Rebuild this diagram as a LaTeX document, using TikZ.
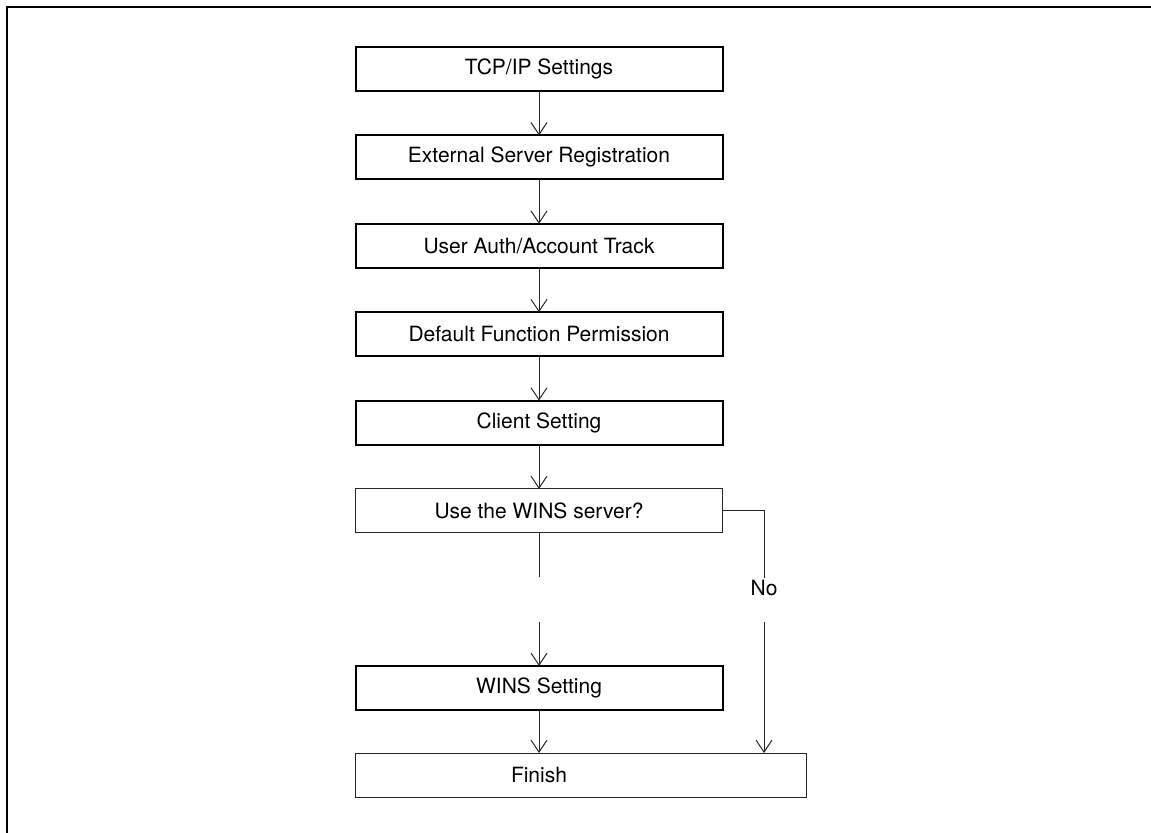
\documentclass[tikz,border=0pt]{standalone}
\usepackage{fontspec}
\setmainfont{TeX Gyre Heros}
\usetikzlibrary{arrows.meta,positioning}
\tikzset{stepbox/.style={draw,line width=1pt,minimum width=183.5pt,minimum height=22pt,inner sep=0pt,outer sep=0pt,font=\fontsize{10.5pt}{12pt}\selectfont},
plainbox/.style={stepbox,line width=0.5pt,draw=black!85},
lbl/.style={font=\fontsize{10.5pt}{12pt}\selectfont,inner sep=1pt},
link/.style={line width=0.5pt,draw=black!85},
arr/.style={link,-{Straight Barb[length=6pt,width=8pt]}}}
\begin{document}
\begin{tikzpicture}[x=0.5pt,y=-0.5pt]
\useasboundingbox (0,0) rectangle (1151,833);
\draw[line width=1.1pt] (7,845) -- (7,7) -- (1160,7);
% steps
\node[stepbox] (tcp) at (539,69) {TCP/IP Settings};
\node[stepbox,below=22.2pt of tcp] (ext) {External Server Registration};
\node[stepbox,below=22.2pt of ext] (auth) {User Auth/Account Track};
\node[stepbox,below=22.2pt of auth] (perm) {Default Function Permission};
\node[stepbox,below=22.2pt of perm] (client) {Client Setting};
\node[plainbox,below=22.2pt of client] (dec) {Use the WINS server?};
\node[stepbox,below=66.5pt of dec] (wins) {WINS Setting};
\node[lbl,minimum width=183.5pt,minimum height=22pt,inner sep=0pt,outer sep=0pt,below=21.5pt of wins] (finish) {Finish};
\coordinate (fedge) at (806,776);
\draw[link] (finish.north west) rectangle (finish.south -| fedge);
\foreach \a/\b in {tcp/ext,ext/auth,auth/perm,perm/client,client/dec,wins/finish}
 {\draw[arr] (\a) -- (\b);}
% branches
\coordinate (gapa) at (539,577);
\coordinate (gapb) at (539,622);
\draw[link] (dec.south) -- (gapa);
\draw[arr] (gapb) -- (wins.north);
\node[lbl] (no) at (764,588) {No};
\coordinate (nolow) at (764,622);
\draw[link] (dec.east) -| (no.north);
\draw[arr] (nolow) -- (nolow |- finish.north);
\end{tikzpicture}
\end{document}
